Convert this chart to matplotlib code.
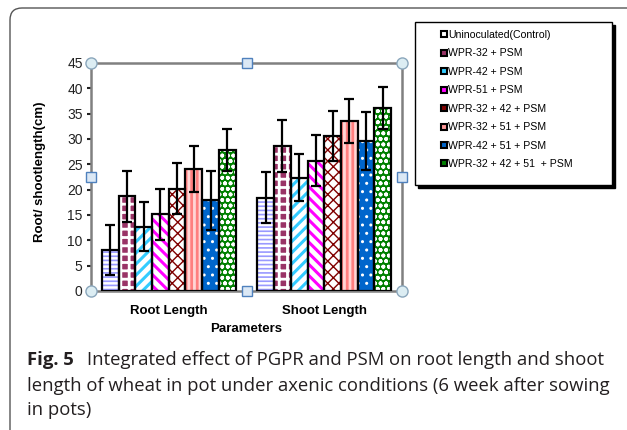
import numpy as np
import matplotlib
matplotlib.use("Agg")
import matplotlib.pyplot as plt
from matplotlib.patches import FancyBboxPatch, Rectangle
from matplotlib.lines import Line2D

plt.rcParams['font.family'] = ['Liberation Sans', 'DejaVu Sans']

# data
groups = ['Root Length', 'Shoot Length']
treatments = ['Uninoculated(Control)', 'WPR-32 + PSM', 'WPR-42 + PSM', 'WPR-51 + PSM',
              'WPR-32 + 42 + PSM', 'WPR-32 + 51 + PSM', 'WPR-42 + 51 + PSM',
              'WPR-32 + 42 + 51  + PSM']
root_means = [8.1, 18.7, 12.7, 15.1, 20.2, 24.1, 17.9, 27.8]
root_err = [5.0, 5.0, 4.8, 5.0, 5.1, 4.5, 5.8, 4.2]
shoot_means = [18.4, 28.6, 22.4, 25.7, 30.6, 33.5, 29.6, 36.1]
shoot_err = [5.0, 5.1, 4.7, 5.0, 5.0, 4.3, 5.8, 4.1]
yticks = [0, 5, 10, 15, 20, 25, 30, 35, 40, 45]

# fill style for each treatment: face colour, hatch, hatch colour, hatch width
styles = [
    ('white', '----', '#9999ff', 1.2),
    ('#993366', '++', 'white', 2.0),
    ('white', '///', '#33ccff', 2.2),
    ('white', '\\\\\\', '#ff00ff', 2.2),
    ('white', 'xxx', '#800000', 1.0),
    ('#ffd6d6', '|||', '#ff7f7f', 2.0),
    ('#0066cc', '..', 'white', 1.0),
    ('#008000', 'ooo', 'white', 1.2),
]
legend_colors = ['white', '#993366', '#33ccff', '#ff00ff', '#800000', '#ff9999', '#0066cc', '#008000']

fig = plt.figure(figsize=(6.27, 4.30), dpi=100)

# outer rounded frame of the figure panel
frame = FancyBboxPatch((0.10, -0.3), 6.6, 4.52,
                       boxstyle="round,pad=0,rounding_size=0.12",
                       transform=fig.dpi_scale_trans, fill=False,
                       edgecolor='#555555', linewidth=1.0)
fig.patches.append(frame)

ax = fig.add_axes([91 / 627, 1 - 291 / 430, 311 / 627, 228 / 430])

x = np.arange(len(groups))
n = len(treatments)
w = 0.1075
for i, (face, hatch, hcol, hlw) in enumerate(styles):
    pos = x + (i - (n - 1) / 2) * w
    vals = [root_means[i], shoot_means[i]]
    errs = [root_err[i], shoot_err[i]]
    with plt.rc_context({'hatch.linewidth': hlw}):
        bars = ax.bar(pos, vals, w, color=face, hatch=hatch, edgecolor=hcol,
                      linewidth=0, zorder=2)
        for b in bars:
            if hasattr(b, 'set_hatch_linewidth'):
                b.set_hatch_linewidth(hlw)
    ax.bar(pos, vals, w, fill=False, edgecolor='black', linewidth=1.6, zorder=3)
    ax.errorbar(pos, vals, yerr=errs, fmt='none', ecolor='black', elinewidth=1.6,
                capsize=3.6, capthick=1.6, zorder=4)

ax.set_xlim(-0.5, 1.5)
ax.set_ylim(0, 45)
ax.set_yticks(yticks)
ax.set_xticks(x)
ax.set_xticklabels(groups, fontsize=9.5, fontweight='bold')
ax.tick_params(axis='x', length=0, pad=10)
ax.tick_params(axis='y', length=3, width=1.5, color='#222222', labelsize=10,
               labelcolor='#222222', pad=3)
for s in ax.spines.values():
    s.set_color('#808080')
    s.set_linewidth(1.8)

ax.set_xlabel('Parameters', fontsize=9.5, fontweight='bold')
ax.xaxis.set_label_coords(0.5, -0.14)
fig.text(40 / 627, 1 - 172 / 430, 'Root/ shootlength(cm)', rotation=90,
         ha='center', va='center', fontsize=9.5, fontweight='bold')

# selection handles on the plot area
for hx, hy in [(0, 0), (0, 1), (1, 0), (1, 1)]:
    ax.plot(hx, hy, 'o', transform=ax.transAxes, clip_on=False, ms=8,
            mfc='#dcedf3', mec='#8aa6bb', mew=1, zorder=6)
for hx, hy in [(0.5, 0), (0.5, 1), (0, 0.5), (1, 0.5)]:
    ax.plot(hx, hy, 's', transform=ax.transAxes, clip_on=False, ms=6.5,
            mfc='#dbe8f5', mec='#4f81bd', mew=1, zorder=6)

# legend box with shadow
lx, ly, lw_, lh = 415, 22, 197, 163
fig.patches.append(Rectangle(((lx + 2.5) / 627, 1 - (ly + lh + 2.5) / 430), lw_ / 627, lh / 430,
                             transform=fig.transFigure, facecolor='black', edgecolor='black'))
fig.patches.append(Rectangle((lx / 627, 1 - (ly + lh) / 430), lw_ / 627, lh / 430,
                             transform=fig.transFigure, facecolor='white', edgecolor='black',
                             linewidth=1.0))
handles = [Line2D([], [], ls='none', marker='s', ms=5, mfc=c, mec='black', mew=1.5)
           for c in legend_colors]
fig.legend(handles, treatments, loc='upper left', bbox_to_anchor=(441 / 627, 1 - 30 / 430),
           frameon=False, fontsize=7.6, handlelength=0.6, handletextpad=0.1,
           labelspacing=0.8, borderpad=0, borderaxespad=0)

# caption
cap = dict(fontsize=13.3, color='#231f20', family=['Open Sans', 'DejaVu Sans'], va='center')
fig.text(27 / 627, 1 - 360 / 430, 'Fig. 5', fontweight='bold', **cap)
fig.text(87 / 627, 1 - 360 / 430, 'Integrated effect of PGPR and PSM on root length and shoot', **cap)
fig.text(27 / 627, 1 - 386 / 430, 'length of wheat in pot under axenic conditions (6 week after sowing', **cap)
fig.text(27 / 627, 1 - 410 / 430, 'in pots)', **cap)

fig.savefig('out.png', dpi=100)
